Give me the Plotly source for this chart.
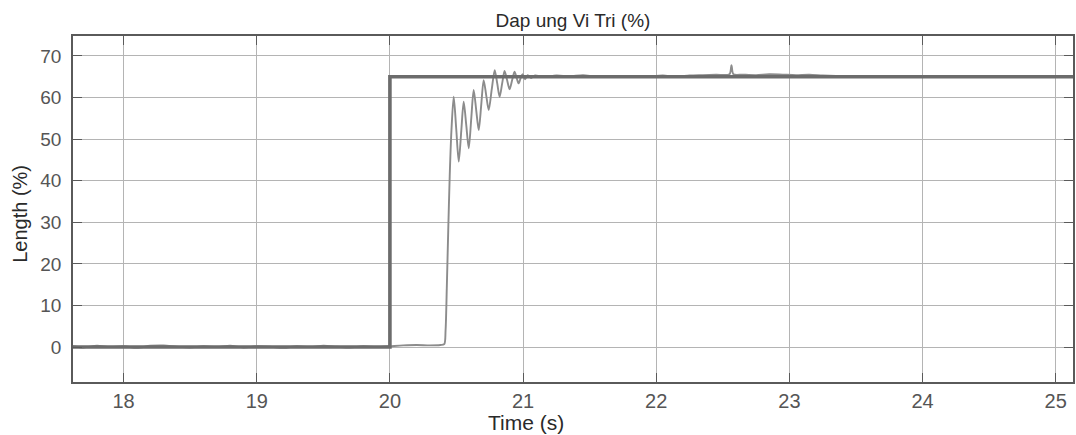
import plotly.graph_objects as go

# Setpoint (reference) signal: step from 0 % to 65 % at t = 20 s
ref_time = [17.62, 20.0, 20.0, 25.13]
ref_value = [0.0, 0.0, 65.0, 65.0]

# Measured position response (%)
resp_time = [
    17.62, 17.7, 17.8, 17.9, 18.0, 18.1, 18.2, 18.3, 18.4, 18.5,
    18.6, 18.7, 18.8, 18.9, 19.0, 19.1, 19.2, 19.3, 19.4, 19.5,
    19.6, 19.7, 19.8, 19.9, 20.0, 20.1, 20.2, 20.3, 20.38, 20.408,
    20.418, 20.427, 20.438, 20.449, 20.462, 20.479, 20.498, 20.517, 20.536, 20.554,
    20.573, 20.592, 20.611, 20.629, 20.648, 20.667, 20.686, 20.704, 20.723, 20.742,
    20.765, 20.787, 20.806, 20.824, 20.843, 20.861, 20.880, 20.899, 20.918, 20.936,
    20.951, 20.966, 20.981, 20.996, 21.015, 21.035, 21.06, 21.09, 21.15, 21.25,
    21.35, 21.45, 21.55, 21.65, 21.75, 21.85, 21.95, 22.05, 22.15, 22.25,
    22.35, 22.45, 22.55, 22.565, 22.58, 22.65, 22.75, 22.85, 22.95, 23.05,
    23.15, 23.25, 23.35, 23.45, 23.55, 23.65, 23.75, 23.85, 23.95, 24.05,
    24.15, 24.25, 24.35, 24.45, 24.55, 24.65, 24.75, 24.85, 24.95, 25.05,
    25.13,
]
resp_value = [
    0.2, -0.1, 0.3, 0.0, 0.2, -0.2, 0.3, 0.4, 0.1, -0.1,
    0.2, 0.0, 0.3, -0.1, 0.2, 0.1, -0.2, 0.2, 0.0, 0.3,
    0.1, -0.1, 0.2, 0.0, 0.2, 0.4, 0.5, 0.4, 0.5, 0.7,
    4.0, 14.0, 28.0, 41.0, 52.0, 60.2, 52.5, 44.6, 52.0, 59.0,
    53.5, 47.8, 55.0, 61.8, 57.0, 52.2, 58.3, 64.2, 60.6, 57.0,
    62.0, 66.6, 63.4, 60.2, 63.4, 66.4, 64.2, 62.0, 64.2, 66.2,
    64.8, 63.4, 64.6, 65.6, 64.4, 65.4, 64.7, 65.3, 64.9, 65.3,
    65.1, 65.4, 65.0, 65.2, 64.9, 65.2, 65.1, 65.3, 65.0, 65.3,
    65.4, 65.5, 65.6, 67.8, 65.6, 65.5, 65.4, 65.6, 65.5, 65.4,
    65.5, 65.3, 65.2, 65.0, 65.2, 64.9, 65.1, 65.2, 64.9, 65.1,
    65.2, 65.0, 64.9, 65.1, 65.2, 65.0, 64.9, 65.1, 65.0, 65.2,
    65.0,
]

x_ticks = [18, 19, 20, 21, 22, 23, 24, 25]
y_ticks = [0, 10, 20, 30, 40, 50, 60, 70]

FONT = "Liberation Sans, Arial, sans-serif"

fig = go.Figure()

fig.add_trace(go.Scatter(
    x=resp_time, y=resp_value, mode="lines",
    line=dict(color="#8c8c8c", width=1.9, shape="spline", smoothing=0.8),
    showlegend=False, hoverinfo="skip",
))
fig.add_trace(go.Scatter(
    x=ref_time, y=ref_value, mode="lines",
    line=dict(color="#6c6c6c", width=3.6),
    showlegend=False, hoverinfo="skip",
))

axis_common = dict(
    showline=True, linecolor="#5a5a5a", linewidth=1.5, mirror="ticks",
    ticks="inside", ticklen=9, tickwidth=1.2, tickcolor="#5a5a5a",
    showgrid=True, gridcolor="#b4b4b4", gridwidth=1,
    zeroline=False,
    tickfont=dict(family=FONT, color="#555555"),
)

fig.update_xaxes(
    **axis_common,
    range=[17.62, 25.13], tickvals=x_ticks, ticktext=[str(v) for v in x_ticks],
    ticklabelstandoff=0,
)
fig.update_xaxes(tickfont_size=20)
fig.update_yaxes(
    **axis_common,
    range=[-8.4, 74.8], tickvals=y_ticks, ticktext=[str(v) for v in y_ticks],
    ticklabelstandoff=6,
)
fig.update_yaxes(tickfont_size=19)

fig.update_layout(
    width=1076, height=435,
    margin=dict(l=73, r=1, t=36, b=53),
    paper_bgcolor="white", plot_bgcolor="white",
    title=dict(
        text="Dap ung Vi Tri (%)", x=0.5, xref="paper",
        y=1 - 20 / 435, yref="container", yanchor="middle", xanchor="center",
        font=dict(family=FONT, size=19, color="#2a2a2a"),
    ),
    annotations=[
        dict(text="Time (s)", xref="paper", yref="paper", x=0.453, y=-0.117,
             xanchor="center", yanchor="middle", showarrow=False, borderpad=0,
             font=dict(family=FONT, size=21, color="#2a2a2a")),
        dict(text="Length (%)", xref="paper", yref="paper", x=-0.053, y=0.486,
             xanchor="center", yanchor="middle", showarrow=False, textangle=-90,
             font=dict(family=FONT, size=20, color="#2a2a2a")),
    ],
)

fig.write_html("out.html")
